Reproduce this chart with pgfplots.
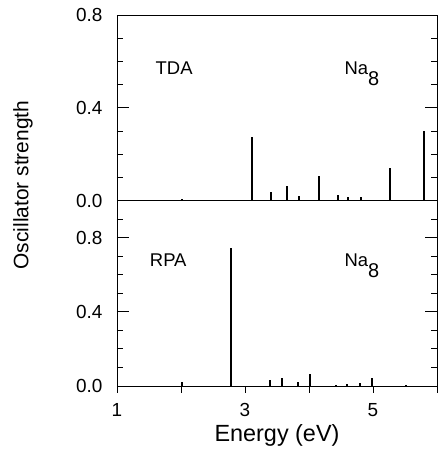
\documentclass[border=0pt]{standalone}
\usepackage{fontspec}
\setmainfont{Liberation Sans}
\usepackage{pgfplots}
\pgfplotsset{compat=1.18}

\pgfplotsset{
 panel/.style={scale only axis,width=320bp,height=185.5bp,xmin=1,xmax=6,ymin=0,
  axis line style={line width=0.8bp},
  every tick/.style={black,line width=0.8bp},
  tick align=inside,ytick pos=both,
  ytick={0,0.4,0.8},minor ytick={0.1,0.2,0.3,0.5,0.6,0.7,0.9},
  major tick length=12bp,minor tick length=6.5bp,
  /pgf/number format/assume math mode=true,
  tick label style={font=\fontsize{19}{19}\selectfont},
  yticklabel style={/pgf/number format/fixed,/pgf/number format/fixed zerofill,
   /pgf/number format/precision=1,xshift=-11bp},
  xtick=\empty},
 spec/.style={ycomb,black,line width=2bp,mark=none}}

\newcommand\nalabel{Na\raisebox{-11bp}{\fontsize{20}{20}\selectfont 8}}

\begin{document}
\begin{tikzpicture}
% RPA, lower panel
\begin{axis}[panel,name=bot,ymax=1.0,
  xtick pos=bottom,
  extra x ticks={1,2,3,4,5,6},extra x tick labels={1,,3,,5,},
  extra x tick style={tick align=outside,major tick length=6.7bp,
   xticklabel style={yshift=-7bp}}]
\addplot[spec] coordinates {(2.01,0.022) (2.78,0.742) (3.39,0.032) (3.58,0.045)
 (3.83,0.020) (4.02,0.062) (4.42,0.008) (4.60,0.010) (4.79,0.018) (4.99,0.045) (5.52,0.008)};
\node[anchor=base west,font=\fontsize{18.5}{18.5}\selectfont] at (axis cs:1.46,0.645) {RPA};
\node[anchor=base west,font=\fontsize{18.5}{18.5}\selectfont] at (axis cs:4.50,0.645) {\nalabel};
\end{axis}
% TDA, upper panel
\begin{axis}[panel,at={(bot.north west)},anchor=south west,ymax=0.8]
\addplot[spec] coordinates {(2.01,0.005) (3.11,0.276) (3.41,0.036) (3.65,0.064)
 (3.85,0.021) (4.15,0.104) (4.46,0.023) (4.61,0.013) (4.81,0.014) (5.27,0.140) (5.79,0.300)};
\node[anchor=base west,font=\fontsize{18.5}{18.5}\selectfont] at (axis cs:1.55,0.545) {TDA};
\node[anchor=base west,font=\fontsize{18.5}{18.5}\selectfont] at (axis cs:4.50,0.545) {\nalabel};
\end{axis}
\node[anchor=base,font=\fontsize{23.5}{23.5}\selectfont] at ([yshift=-55.7bp]bot.south) {Energy (eV)};
\node[rotate=90,font=\fontsize{21}{21}\selectfont] at ([shift={(-94bp,201bp)}]bot.south west) {Oscillator strength};
\pgfresetboundingbox
\path ([shift={(-117bp,-69bp)}]bot.south west) rectangle ([shift={(322bp,386bp)}]bot.south west);
\end{tikzpicture}
\end{document}
